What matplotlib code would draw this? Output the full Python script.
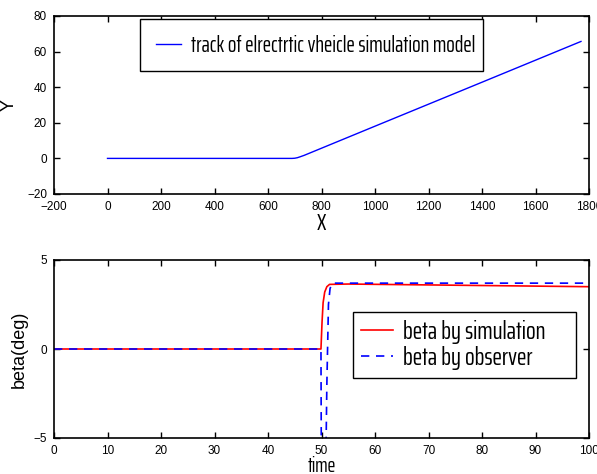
import matplotlib
matplotlib.use("Agg")
import matplotlib.pyplot as plt

# Vehicle track (X, Y)
track_x = [0, 300, 690, 700, 710, 720, 735, 1000, 1400, 1770]
track_y = [0, 0, 0, 0.1, 0.4, 0.9, 1.7, 18.1, 42.8, 65.7]

# Side slip angle: simulation
sim_t = [0, 49.9, 50.1, 50.3, 50.6, 51.0, 51.5, 55, 70, 85, 100]
sim_beta = [0, 0, 1.5, 2.6, 3.2, 3.5, 3.63, 3.65, 3.6, 3.55, 3.5]

# Side slip angle: observer estimate
obs_t = [0, 49.9, 50.0, 50.7, 51.0, 51.3, 51.6, 52.0, 60, 100]
obs_beta = [0, 0, -9, -9, -2, 2.5, 3.4, 3.7, 3.7, 3.7]

track_label = 'track of elrectrtic vheicle simulation model'
sim_label = 'beta by simulation'
obs_label = 'beta by observer'

COND = 'Saira ExtraCondensed'
TICKFONT = 'Liberation Sans'

plt.rcParams['font.family'] = ['Liberation Sans', 'DejaVu Sans']
plt.rcParams['xtick.direction'] = 'in'
plt.rcParams['ytick.direction'] = 'in'
plt.rcParams['xtick.top'] = True
plt.rcParams['ytick.right'] = True

W, H = 597, 474
fig = plt.figure(figsize=(W / 100, H / 100), dpi=100)
renderer = fig.canvas.get_renderer()


def fit_size(text, family, width_px):
    """Font size that makes `text` span `width_px` pixels."""
    t = fig.text(0, 0, text, fontsize=10, family=family)
    w = t.get_window_extent(renderer).width
    t.remove()
    return 10 * width_px / w


def px_box(x0, y0, x1, y1):
    """Figure-fraction bbox from pixel corners (top-left origin)."""
    return (x0 / W, 1 - y1 / H, (x1 - x0) / W, (y1 - y0) / H)


ax1 = fig.add_axes([54 / W, 1 - 194 / H, 535 / W, 178 / H])
ax2 = fig.add_axes([54 / W, 1 - 438 / H, 535 / W, 178 / H])

ax1.plot(track_x, track_y, color='blue', lw=1, label=track_label)
ax1.set_xlim(-200, 1800)
ax1.set_ylim(-20, 80)
ax1.set_xticks(range(-200, 1801, 200))
ax1.set_yticks(range(-20, 81, 20))
ax1.set_xlabel('X', fontsize=17, family=COND, labelpad=0)
ax1.set_ylabel('Y', fontsize=13, labelpad=7)

ax2.plot(sim_t, sim_beta, color='red', lw=1.2, label=sim_label)
ax2.plot(obs_t, obs_beta, color='blue', lw=1.2, ls=(0, (5, 4)), label=obs_label)
ax2.set_xlim(0, 100)
ax2.set_ylim(-5, 5)
ax2.set_xticks(range(0, 101, 10))
ax2.set_yticks([-5, 0, 5])
ax2.set_xlabel('time', fontsize=15, family=COND, labelpad=-1)
ax2.set_ylabel('beta(deg)', fontsize=13, labelpad=4)

# legends sized in pixels
fs1 = fit_size(track_label, COND, 285)
em1 = fs1 * 100 / 72
leg1 = ax1.legend(loc='upper left', bbox_to_anchor=px_box(140, 19, 483, 73),
                  bbox_transform=fig.transFigure, borderaxespad=0, mode='expand',
                  fancybox=False, edgecolor='black', framealpha=1,
                  handlelength=25 / em1, handletextpad=10 / em1,
                  borderpad=0.7, prop={'family': COND, 'size': fs1})
leg1.get_frame().set_linewidth(1)

fs2 = fit_size(sim_label, COND, 143)
em2 = fs2 * 100 / 72
leg2 = ax2.legend(loc='upper left', bbox_to_anchor=px_box(353, 312, 576, 377),
                  bbox_transform=fig.transFigure, borderaxespad=0, mode='expand',
                  fancybox=False, edgecolor='black', framealpha=1,
                  handlelength=32 / em2, handletextpad=10 / em2,
                  labelspacing=0.1, borderpad=0.3,
                  prop={'family': COND, 'size': fs2})
leg2.get_frame().set_linewidth(1)

for ax in (ax1, ax2):
    ax.tick_params(labelsize=8.5, length=4, width=1, pad=5)
    for lab in ax.get_xticklabels() + ax.get_yticklabels():
        lab.set_family(TICKFONT)
    for s in ax.spines.values():
        s.set_linewidth(1.2)

fig.savefig('out.png', dpi=100)
